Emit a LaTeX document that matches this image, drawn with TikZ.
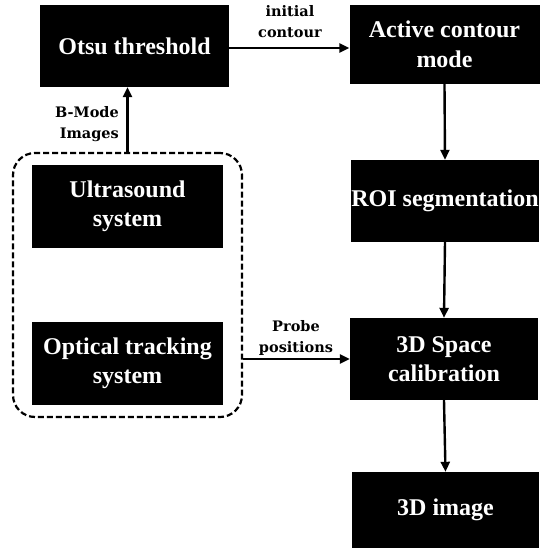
\documentclass[tikz,border=0pt]{standalone}
\usepackage{fontspec}
\setmainfont{Liberation Serif}
\newfontfamily\labfont{DejaVu Serif}
\usetikzlibrary{arrows.meta}
\begin{document}
\begin{tikzpicture}[x=1pt,y=-1pt,
  box/.style={fill=black,text=white,font=\fontsize{24}{29.5}\selectfont\bfseries,align=center,inner sep=0pt},
  lab/.style={font=\labfont\fontsize{14.5}{21}\selectfont\bfseries,align=center,inner sep=0pt},
  arr/.style={line width=2.4pt,-{Triangle[length=10pt,width=9pt]}}]
\useasboundingbox (0,0) rectangle (542,550);
\node[box,minimum width=189pt,minimum height=82pt] (otsu) at (134.5,46) {Otsu threshold};
\node[box,minimum width=190pt,minimum height=79pt] (active) at (444.5,44.5) {Active contour\\mode};
\node[box,minimum width=186pt,minimum height=82pt] (roi) at (445,201) {ROI segmentation};
\node[box,minimum width=188pt,minimum height=82pt] (space) at (444,359) {3D Space\\calibration};
\node[box,minimum width=187pt,minimum height=76pt] (img) at (445.5,510) {3D image};
\node[box,minimum width=191pt,minimum height=83pt] (us) at (127.5,206.5) {Ultrasound\\system};
\node[box,minimum width=191pt,minimum height=83pt] (opt) at (127.5,363.5) {Optical tracking\\system};
\node[draw,line width=2.2pt,dash pattern=on 6pt off 3pt,rounded corners=22pt,minimum width=229pt,minimum height=264pt,inner sep=0pt] (grp) at (127.5,285) {};
\draw[arr] (otsu.east |- 0,48) -- (active.west |- 0,48);
\draw[arr] (active.south) -- (roi.north);
\draw[arr] (roi.south) -- (space.north);
\draw[arr] (space.south) -- (img.north);
\draw[arr] (grp.north) -- (otsu.south -| grp.north);
\draw[arr] (grp.east |- space.west) -- (space.west);
\node[lab] (l1) at (290,22) {initial\\contour};
\node[lab,anchor=east,align=right] (l2) at (119,124) {B-Mode\\Images};
\node[lab] (l3) at (296,338) {Probe\\positions};
\end{tikzpicture}
\end{document}
